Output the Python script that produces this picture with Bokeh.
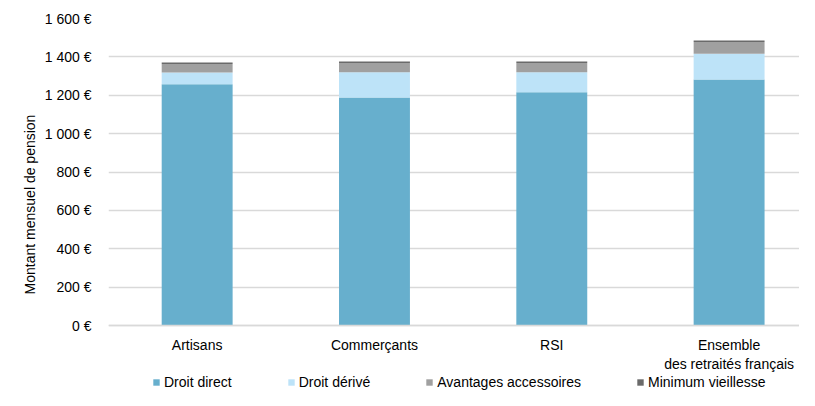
from bokeh.plotting import figure
from bokeh.models import Range1d, FixedTicker, Legend, LegendItem
from bokeh.embed import file_html
from bokeh.resources import INLINE

categories = ["Artisans", "Commerçants", "RSI", "Ensemble\ndes retraités français"]
series_names = ["Droit direct", "Droit dérivé", "Avantages accessoires", "Minimum vieillesse"]
droit_direct = [1257, 1188, 1216, 1282]
droit_derive = [62, 132, 104, 134]
avantages_accessoires = [44, 48, 48, 62]
minimum_vieillesse = [8, 8, 8, 7]
y_tick_values = [0, 200, 400, 600, 800, 1000, 1200, 1400, 1600]
y_tick_labels = ["0 €", "200 €", "400 €", "600 €", "800 €", "1 000 €", "1 200 €", "1 400 €", "1 600 €"]
y_axis_title = "Montant mensuel de pension"

colors = ["#67AFCD", "#BDE3F8", "#A0A0A0", "#6A6A6A"]
FONT = "Liberation Sans"

xs = list(range(len(categories)))
data = {"x": xs, "s0": droit_direct, "s1": droit_derive, "s2": avantages_accessoires, "s3": minimum_vieillesse}

# frame spans y 18..390; value 0 sits at y=325 (65 px above the frame bottom)
y_top = 1600
px_per_unit = 307 / 1600
y_bottom = -65 / px_per_unit

p = figure(width=799, height=390, output_backend="svg", toolbar_location=None,
           x_range=Range1d(-0.5, 3.397), y_range=Range1d(y_bottom, y_top))
p.min_border_left = 108
p.min_border_right = 0
p.min_border_top = 18
p.min_border_bottom = 0
p.outline_line_color = None
p.background_fill_color = "white"
p.border_fill_color = "white"

renderers = p.vbar_stack(["s0", "s1", "s2", "s3"], x="x", width=0.4, color=colors,
                         line_color=None, source=data)

p.xgrid.visible = False
p.ygrid.grid_line_color = "#D9D9D9"
p.ygrid.grid_line_width = 1.5
p.ygrid.ticker = FixedTicker(ticks=y_tick_values)

# Y axis
p.yaxis.ticker = FixedTicker(ticks=y_tick_values)
p.yaxis.major_label_overrides = {v: l for v, l in zip(y_tick_values, y_tick_labels)}
p.yaxis.axis_line_color = None
p.yaxis.major_tick_line_color = None
p.yaxis.minor_tick_line_color = None
p.yaxis.major_label_standoff = 11
p.yaxis.major_label_text_font = FONT
p.yaxis.major_label_text_font_size = "14px"
p.yaxis.major_label_text_color = "#000000"
p.yaxis.axis_label = y_axis_title
p.yaxis.axis_label_text_font = FONT
p.yaxis.axis_label_text_font_size = "14px"
p.yaxis.axis_label_text_font_style = "normal"
p.yaxis.axis_label_text_color = "#000000"
p.yaxis.axis_label_standoff = 4

# X axis, drawn at value 0
p.xaxis.fixed_location = 0
p.xaxis.ticker = FixedTicker(ticks=xs)
p.xaxis.major_label_overrides = {i: c for i, c in zip(xs, categories)}
p.xaxis.axis_line_color = "#D9D9D9"
p.xaxis.axis_line_width = 1.5
p.xaxis.major_tick_line_color = None
p.xaxis.minor_tick_line_color = None
p.xaxis.major_label_standoff = 5
p.xaxis.major_label_text_font = FONT
p.xaxis.major_label_text_font_size = "14px"
p.xaxis.major_label_text_color = "#000000"

legend = Legend(items=[LegendItem(label=n, renderers=[r]) for n, r in zip(series_names, renderers)],
                orientation="horizontal", location=(44, 0))
legend.glyph_width = 8
legend.glyph_height = 8
legend.label_height = 14
legend.label_standoff = 4
legend.spacing = 55
legend.padding = 0
legend.margin = 0
legend.border_line_color = None
legend.background_fill_alpha = 0
legend.label_text_font = FONT
legend.label_text_font_size = "14px"
legend.label_text_color = "#000000"
p.add_layout(legend, "center")

open("out.html", "w").write(file_html(p, INLINE))
